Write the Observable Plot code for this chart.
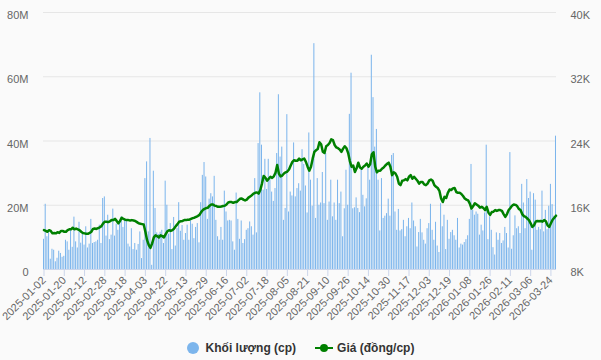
<!DOCTYPE html>
<html><head><meta charset="utf-8">
<script src="https://cdn.jsdelivr.net/npm/d3@7"></script>
<script src="https://cdn.jsdelivr.net/npm/@observablehq/plot@0.6"></script>
<style>
html,body{margin:0;padding:0;background:#fafafa;}
#chart{width:601px;height:360px;background:#fafafa;font-family:"Liberation Sans",Arial,sans-serif;overflow:hidden;}
#chart svg{display:block;}
.legend{display:flex;justify-content:center;align-items:center;height:24px;font-size:12px;font-weight:bold;color:#333;}
.item{display:flex;align-items:center;}
.dotsym{width:12px;height:12px;border-radius:50%;background:#7cb5ec;margin-right:7px;}
.linesym{margin-right:4px;}
</style></head>
<body><div id="chart"></div>
<script>
// trading calendar (categories)
const holidays = ["2025-01-01","2025-01-27","2025-01-28","2025-01-29","2025-01-30","2025-01-31","2025-04-07","2025-04-30","2025-05-01","2025-05-02","2025-09-01","2025-09-02","2026-01-01","2026-01-02","2026-02-16","2026-02-17","2026-02-18","2026-02-19","2026-02-20"];
const firstDay = "2025-01-02", lastDay = "2026-03-27";
const tickLabels = ["2025-01-02","2025-01-20","2025-02-12","2025-02-28","2025-03-18","2025-04-03","2025-04-22","2025-05-13","2025-05-29","2025-06-16","2025-07-02","2025-07-18","2025-08-05","2025-08-21","2025-09-10","2025-09-26","2025-10-14","2025-10-30","2025-11-17","2025-12-03","2025-12-19","2026-01-08","2026-01-26","2026-02-11","2026-03-06","2026-03-24"];
// volume, millions of shares
const volumeM = [
9.4,20.3,10.2,11.4,3.2,6.3,6.0,2.4,3.5,5.7,5.0,3.8,4.1,9.1,8.6,6.0,12.2,6.9,16.3,8.6,6.7,14.7,8.2,11.2,7.6,13.3,6.7,7.9,15.6,8.1,8.4,8.6,9.1,13.8,8.1,22.1,22.6,
10.4,16.9,9.3,10.7,18.8,10.4,14.1,12.2,14.8,16.4,13.1,15.5,15.1,7.9,7.0,12.7,6.2,8.1,6.0,7.8,11.7,3.4,9.1,
28.3,33.5,11.7,40.8,1.3,30.6,19.0,11.4,10.9,11.6,12.2,8.1,27.5,20.0,11.0,14.3,
6.2,16.2,7.3,12.8,20.8,11.9,13.7,9.1,11.2,13.8,9.1,15.1,14.1,9.6,13.1,14.3,8.3,20.8,29.3,33.3,28.8,15.6,21.9,23.6,22.6,29.0,15.3,10.2,9.1,13.1,9.1,24.4,17.9,15.1,15.3,15.1,8.6,6.0,
23.8,15.6,9.4,15.1,8.1,9.3,12.2,12.7,14.8,13.3,10.7,28.3,11.4,39.2,55.0,38.7,24.7,34.3,24.9,34.3,28.0,24.1,21.2,25.2,36.1,54.4,35.0,38.1,15.3,19.0,48.2,17.9,24.1,22.9,39.4,22.6,25.2,26.7,
24.4,37.3,32.7,26.0,17.6,42.5,27.8,19.7,70.3,15.9,28.3,20.0,20.7,30.2,20.5,36.1,15.3,21.0,27.8,16.4,20.7,15.3,27.8,20.5,24.1,10.2,18.9,30.9,20.0,48.3,61.1,18.9,19.2,22.3,19.0,17.7,30.9,23.1,19.5,
22.0,31.9,27.8,66.7,53.5,38.1,43.6,
27.8,12.0,28.3,15.9,16.6,17.4,21.9,16.6,35.5,36.1,17.9,12.2,18.7,12.0,12.4,15.3,10.2,13.3,15.9,12.7,20.7,15.1,13.3,7.0,11.5,15.6,11.4,9.1,7.9,12.7,14.3,20.3,
12.2,9.1,14.7,7.3,5.3,20.5,13.3,16.9,6.2,15.3,9.4,11.5,12.2,10.5,9.1,15.9,6.7,7.9,7.6,8.4,9.3,10.5,15.6,32.7,18.4,16.9,17.9,17.2,10.7,13.8,12.0,17.6,38.7,9.3,16.4,12.2,6.8,4.5,
11.4,9.1,11.2,8.1,8.9,13.1,11.2,6.7,36.4,6.3,10.5,16.7,12.7,13.3,11.2,26.5,20.7,12.7,28.0,22.1,24.1,6.0,23.6,21.6,12.2,13.1,12.4,24.4,11.7,18.4,12.4,19.7,26.5,20.2,16.6,41.5
];
// price, thousand dong per share
const priceK = [
12.9,12.8,12.7,12.9,12.8,12.5,12.55,12.5,12.65,12.55,12.8,12.8,12.7,12.7,12.9,13.0,13.0,13.2,13.0,13.1,13.0,12.9,12.7,12.55,12.5,12.45,12.45,12.55,12.7,13.05,13.1,13.05,13.15,13.25,13.4,13.75,13.95,
13.95,13.9,14.0,14.15,14.15,14.3,14.05,13.75,14.05,14.45,14.3,14.2,14.15,14.15,14.1,14.15,14.1,14.05,13.9,13.75,13.7,13.65,13.6,12.7,11.65,11.05,10.7,11.25,12.0,12.25,12.15,12.0,12.25,12.15,12.0,12.4,12.75,12.9,12.8,
12.9,13.1,13.4,13.65,13.95,14.0,14.05,14.15,14.15,14.2,14.2,14.3,14.4,14.45,14.55,14.65,14.8,15.15,15.4,15.55,15.65,15.7,15.95,16.1,16.1,15.95,15.9,15.8,15.8,15.85,15.9,15.95,16.1,16.35,16.4,16.4,16.3,16.4,
16.4,16.6,16.8,16.85,16.7,16.6,16.7,16.95,17.1,17.25,17.45,17.55,17.6,17.45,17.9,18.7,19.65,19.45,19.05,19.3,19.55,19.4,19.6,20.05,21.0,19.95,19.6,19.7,19.95,20.1,20.2,20.45,20.95,21.4,21.6,21.55,21.55,21.8,
21.6,21.7,21.8,21.4,20.8,20.3,20.8,21.8,22.65,22.85,23.0,23.85,23.6,22.65,22.5,23.35,23.5,23.75,24.2,24.1,23.5,23.2,23.1,22.95,22.65,23.05,23.35,23.1,22.5,21.5,20.8,20.95,20.15,20.6,21.3,20.7,20.55,20.8,20.95,
21.2,20.8,21.1,22.35,22.6,20.8,20.1,20.3,20.3,20.55,20.7,20.95,21.15,21.3,20.8,19.75,20.1,19.95,19.55,18.7,18.5,19.05,19.1,19.25,19.1,19.55,19.75,19.3,19.55,19.3,19.05,18.7,18.9,18.9,18.6,18.5,18.7,19.1,19.2,
19.05,18.5,18.3,18.15,17.8,16.85,16.4,17.05,16.9,17.55,17.95,17.9,18.1,18.15,17.65,17.55,17.55,17.4,17.15,16.85,16.7,16.6,16.2,15.6,15.9,16.25,16.1,15.95,15.7,15.8,15.65,15.4,15.8,15.1,14.8,15.15,15.2,15.4,
15.3,15.4,15.4,15.3,14.9,14.55,14.9,15.4,15.65,15.95,16.1,16.05,15.9,15.55,15.4,14.9,14.65,14.55,14.35,14.15,13.75,13.3,13.5,13.95,14.05,14.0,14.05,13.95,14.15,14.0,13.5,13.3,13.75,14.2,14.45,14.7
];
const volTicks = [0, 20e6, 40e6, 60e6, 80e6];
const priceTicks = [8000, 16000, 24000, 32000, 40000];

// build trading dates
const dates = [];
for (let t = Date.parse(firstDay + "T00:00:00Z"); t <= Date.parse(lastDay + "T00:00:00Z"); t += 864e5) {
  const d = new Date(t), wd = d.getUTCDay();
  if (wd === 0 || wd === 6) continue;
  const s = d.toISOString().slice(0, 10);
  if (holidays.includes(s)) continue;
  dates.push(s);
}
const n = Math.min(dates.length, volumeM.length, priceK.length);
const rows = d3.range(n).map(i => ({date: dates[i], vol: volumeM[i] * 1e6, price: priceK[i] * 1000}));

// map price onto volume axis
const pMin = priceTicks[0], pMax = priceTicks[priceTicks.length - 1], vMax = volTicks[volTicks.length - 1];
const toY = p => (p - pMin) / (pMax - pMin) * vMax;
const fromY = v => pMin + v / vMax * (pMax - pMin);

const font = "Liberation Sans, Arial, sans-serif";
const chart = Plot.plot({
  width: 601, height: 336,
  marginLeft: 43, marginRight: 45, marginTop: 12, marginBottom: 67,
  style: {background: "#fafafa", fontFamily: font, fontSize: "11px", color: "#666", overflow: "visible"},
  x: {type: "band", domain: rows.map(d => d.date), paddingInner: 0.4, paddingOuter: 0, label: null},
  y: {domain: [0, vMax], label: null},
  marks: [
    Plot.gridY(volTicks.filter(v => v > 0), {stroke: "#e6e6e6", strokeOpacity: 1}),
    Plot.barY(rows, {x: "date", y: "vol", fill: "#7cb5ec"}),
    Plot.ruleY([0], {stroke: "#ccd6eb"}),
    Plot.line(rows, {x: "date", y: d => toY(d.price), stroke: "#008000", strokeWidth: 2.5, strokeLinejoin: "round", curve: "linear"}),
    Plot.axisY({ticks: volTicks, tickSize: 0, tickPadding: 15, dy: 3, fill: "#666", tickFormat: v => v === 0 ? "0" : (v / 1e6) + "M", label: null}),
    Plot.axisY({anchor: "right", ticks: priceTicks.map(toY), tickSize: 0, tickPadding: 14, dy: 3, fill: "#666", tickFormat: v => Math.round(fromY(v) / 1000) + "K", label: null}),
    Plot.axisX({ticks: tickLabels, tickRotate: -45, tickSize: 7, stroke: "#ccd6eb", fill: "#666", fontSize: 11, tickPadding: 2, label: null})
  ]
});
const root = document.getElementById("chart");
root.appendChild(chart);
const legend = document.createElement("div");
legend.className = "legend";
legend.innerHTML = `<div class="item"><div class="dotsym"></div><span>Khối lượng (cp)</span></div>
<div class="item" style="margin-left:19px"><svg class="linesym" width="18" height="10"><line x1="0" y1="5" x2="18" y2="5" stroke="#008000" stroke-width="2"/><circle cx="9" cy="5" r="4" fill="#008000"/></svg><span>Giá (đồng/cp)</span></div>`;
root.appendChild(legend);
</script></body></html>
